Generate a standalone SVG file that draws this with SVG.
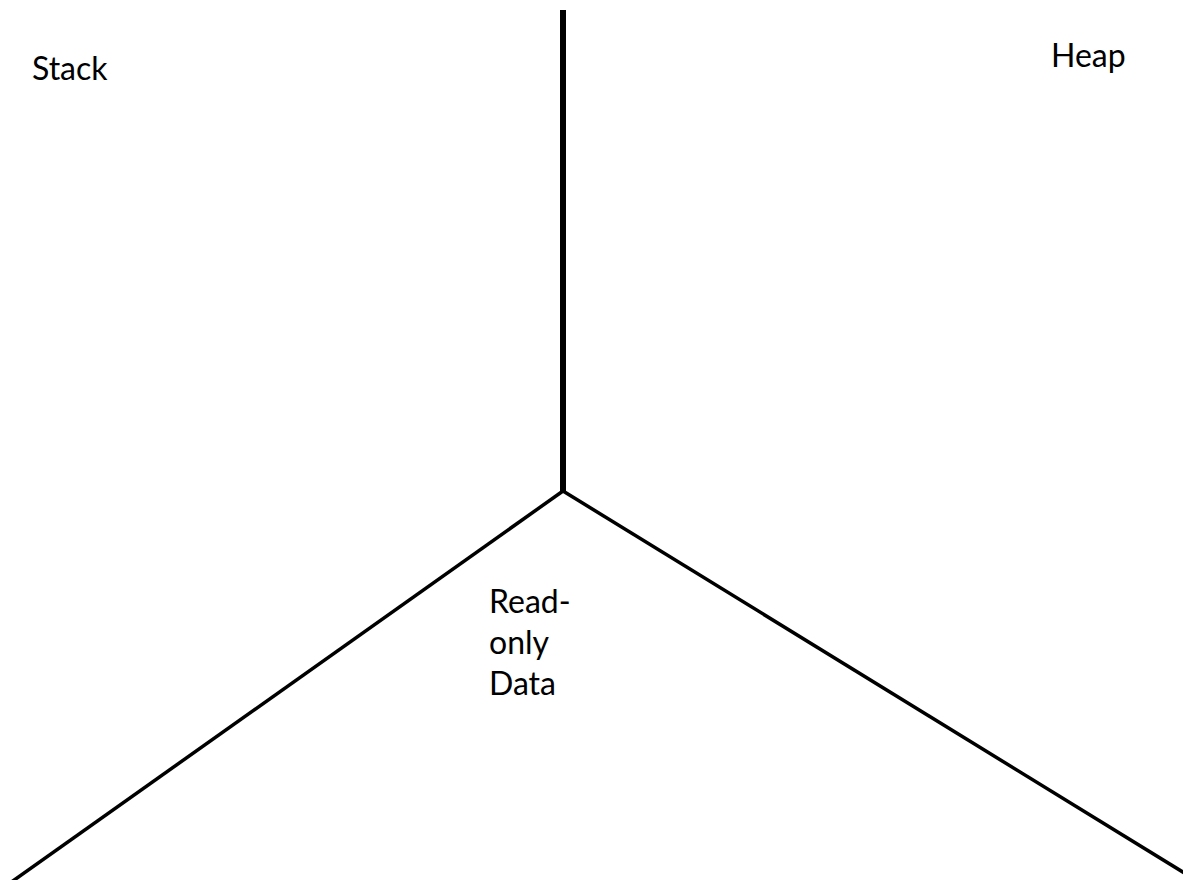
<svg xmlns="http://www.w3.org/2000/svg" width="1183" height="880" viewBox="0 0 1183 880">
<style>
.lbl{font-family:Lato,"Open Sans",sans-serif;font-size:32px;fill:#000}
.ln{stroke:#000;fill:none;stroke-linecap:butt}
</style>
<rect width="1183" height="880" fill="#fff"/>
<g id="connectors">
<line class="ln" x1="563" y1="10" x2="563" y2="492" stroke-width="6"/>
<line class="ln" x1="563" y1="491" x2="10" y2="883" stroke-width="3.5"/>
<line class="ln" x1="563" y1="491" x2="1186" y2="874" stroke-width="3.5"/>
</g>
<g id="stack"><text class="lbl" x="32" y="80">Stack</text></g>
<g id="heap"><text class="lbl" x="1051" y="67">Heap</text></g>
<g id="rodata"><text class="lbl" x="489" y="613">Read-</text><text class="lbl" x="489" y="654">only</text><text class="lbl" x="489" y="695">Data</text></g>
</svg>
